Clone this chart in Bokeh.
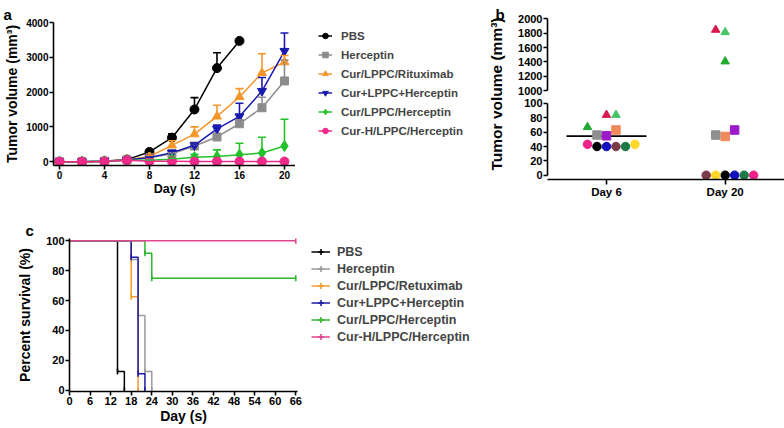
import numpy as np
from bokeh.plotting import figure
from bokeh.models import (ColumnDataSource, Whisker, TeeHead, Legend, LegendItem,
                          FixedTicker, Range1d)
from bokeh.layouts import row, column
from bokeh.embed import file_html
from bokeh.resources import INLINE

FONT = "Liberation Sans"

# ---------------- Panel a: tumour growth ----------------
days = [0, 2, 4, 6, 8, 10, 12, 14, 16, 18, 20]
names_a = ["PBS", "Herceptin", "Cur/LPPC/Rituximab", "Cur+LPPC+Herceptin",
           "Cur/LPPC/Herceptin", "Cur-H/LPPC/Herceptin"]
vol_pbs = [0, 0, 10, 60, 280, 690, 1500, 2690, 3470]
err_pbs = [0, 0, 0, 0, 20, 110, 340, 440, 0]
vol_herceptin = [0, 0, 15, 50, 110, 230, 450, 710, 1090, 1550, 2320]
err_herceptin = [0, 0, 0, 0, 10, 30, 50, 80, 110, 300, 600]
vol_rituximab = [0, 0, 15, 55, 150, 470, 790, 1300, 1860, 2550, 2860]
err_rituximab = [0, 0, 0, 0, 30, 130, 210, 320, 240, 550, 190]
vol_free_mix = [0, 0, 15, 50, 120, 260, 470, 940, 1300, 2030, 3180]
err_free_mix = [0, 0, 0, 0, 10, 40, 40, 110, 380, 390, 520]
vol_lppc_her = [0, 0, 10, 40, 40, 70, 130, 150, 200, 250, 450]
err_lppc_her = [0, 0, 0, 0, 10, 30, 80, 190, 330, 450, 770]
vol_curh = [0, 0, 5, 40, 10, 10, 5, 5, 5, 5, 5]
err_curh = [0, 0, 0, 0, 0, 0, 0, 0, 0, 0, 0]
ticks_a_x = [0, 4, 8, 12, 16, 20]
ticks_a_y = [0, 1000, 2000, 3000, 4000]

colors_a = ["#000000", "#8c8c8c", "#f5962a", "#1a1ab0", "#22c22a", "#ec2a8a"]
markers_a = ["circle", "square", "triangle", "inverted_triangle", "diamond", "circle"]
sizes_a = [9, 8, 9, 9, 11, 9]

# ---------------- Panel b: individual volumes ----------------
groups_b = ["Day 6", "Day 20"]
mouse_marker = ["triangle", "triangle", "triangle", "square", "square", "square",
                "circle", "circle", "circle", "circle", "circle", "circle"]
mouse_color = ["#d8194f", "#45c46a", "#22aa2e", "#f0895a", "#8f8f8f", "#9b19c8",
               "#ee2288", "#000000", "#1010c0", "#7a3a48", "#1b7a45", "#ffd728"]
vol_day6 = [84, 84, 67, 63, 56, 55, 43, 40, 40, 40, 40, 43]
vol_day20 = [1847, 1814, 1407, 54, 56, 63, 0, 0, 0, 0, 0, 0]
slot_day6 = [0, 1, -2, 1, -1, 0, -2, -1, 0, 1, 2, 3]
slot_day20 = [-1, 0, 0, 0, -1, 1, 3, 0, 1, -2, 2, -1]
ticks_b_low = [0, 20, 40, 60, 80, 100]
ticks_b_up = [1000, 1200, 1400, 1600, 1800, 2000]

# ---------------- Panel c: survival ----------------
names_c = ["PBS", "Herceptin", "Cur/LPPC/Retuximab", "Cur+LPPC+Herceptin",
           "Cur/LPPC/Herceptin", "Cur-H/LPPC/Herceptin"]
surv_days = [[0, 14, 16], [0, 18, 20, 22, 24], [0, 18, 20], [0, 18, 20, 22],
             [0, 22, 24, 66], [0, 66]]
surv_pct = [[100, 12.5, 0], [100, 87.5, 50, 12.5, 0], [100, 62.5, 0],
            [100, 88.9, 11.1, 0], [100, 91.7, 75, 75], [100, 100]]
colors_c = ["#000000", "#9a9a9a", "#f39c2b", "#1c1ca8", "#2cb82c", "#e0458f"]
ticks_c_x = [0, 6, 12, 18, 24, 30, 36, 42, 48, 54, 60, 66]
ticks_c_y = [0, 20, 40, 60, 80, 100]


def style(p, tick_px, label_px, label_standoff=3):
    p.outline_line_color = None
    p.xgrid.visible = False
    p.ygrid.visible = False
    for ax in p.axis:
        ax.axis_line_width = 1.6
        ax.axis_line_color = "black"
        ax.major_tick_line_width = 1.6
        ax.major_tick_line_color = "black"
        ax.major_tick_out = 4
        ax.major_tick_in = 0
        ax.minor_tick_line_color = None
        ax.major_label_text_font = FONT
        ax.major_label_text_font_style = "bold"
        ax.major_label_text_font_size = tick_px
        ax.major_label_text_color = "black"
        ax.major_label_standoff = 1
        ax.axis_label_text_font = FONT
        ax.axis_label_text_font_style = "bold"
        ax.axis_label_text_font_size = label_px
        ax.axis_label_text_color = "black"
        ax.axis_label_standoff = label_standoff


def letter(p, txt, offset):
    p.title.text = txt
    p.title.align = "left"
    p.title.offset = offset
    p.title.standoff = 0
    p.title.text_font = FONT
    p.title.text_font_style = "bold"
    p.title.text_font_size = "15px"
    p.title.text_color = "black"


def legend_fig(width, height):
    # a key-only canvas: its ranges lie far from the data, so only the legend shows
    f = figure(width=width, height=height, x_range=Range1d(-2000, -1999),
               y_range=Range1d(-90000, -89999),
               toolbar_location=None, output_backend="svg",
               min_border_left=0, min_border_right=0, min_border_top=0, min_border_bottom=0)
    f.axis.visible = False
    f.grid.visible = False
    f.outline_line_color = None
    return f


# ---- panel a figure
pa = figure(width=295, height=200, x_range=Range1d(-0.53, 20.98), y_range=Range1d(-110, 4000),
            toolbar_location=None, output_backend="svg",
            min_border_left=53, min_border_right=0, min_border_top=22, min_border_bottom=35)
style(pa, "10px", "12.5px", 0)
pa.yaxis.axis_label_text_font_size = "14px"
pa.yaxis.axis_label_standoff = 3
pa.xaxis.ticker = FixedTicker(ticks=ticks_a_x)
pa.yaxis.ticker = FixedTicker(ticks=ticks_a_y)
pa.xaxis.axis_label = "Day (s)"
pa.yaxis.axis_label = "Tumor volume (mm³)"
letter(pa, "a", -50)

pa_leg = legend_fig(175, 200)
series_vol = [vol_pbs, vol_herceptin, vol_rituximab, vol_free_mix, vol_lppc_her, vol_curh]
series_err = [err_pbs, err_herceptin, err_rituximab, err_free_mix, err_lppc_her, err_curh]
items_a = []
for name, vol, err, c, m, s in zip(names_a, series_vol, series_err, colors_a, markers_a, sizes_a):
    n = len(vol)
    x = days[:n]
    src = ColumnDataSource(dict(x=x, y=vol))
    ex = [xx for xx, e in zip(x, err) if e > 0]
    ey = [v for v, e in zip(vol, err) if e > 0]
    eu = [v + e for v, e in zip(vol, err) if e > 0]
    if ex:
        wsrc = ColumnDataSource(dict(base=ex, lower=ey, upper=eu))
        pa.add_layout(Whisker(source=wsrc, base="base", lower="lower", upper="upper",
                              line_color=c, line_width=1.6, lower_head=None,
                              upper_head=TeeHead(size=8, line_color=c, line_width=1.6),
                              level="glyph"))
    pa.line("x", "y", source=src, line_color=c, line_width=1.5)
    pa.scatter("x", "y", source=src, marker=m, size=s, fill_color=c, line_color=c)
    lr = pa_leg.line("x", "y", source=src, line_color=c, line_width=1.5)
    sr = pa_leg.scatter("x", "y", source=src, marker=m, size=s, fill_color=c, line_color=c)
    items_a.append(LegendItem(label=name, renderers=[lr, sr]))

leg_a = Legend(items=items_a, location=(23, 27), border_line_color=None,
               background_fill_alpha=0, padding=0, margin=0, spacing=4,
               glyph_width=14, glyph_height=15, label_height=15, label_standoff=9,
               label_text_font=FONT, label_text_font_style="bold",
               label_text_font_size="11.5px")
pa_leg.add_layout(leg_a)

# ---- panel b figures
xr_b = Range1d(0.503, 2.5)
slot_w = 0.08
x6 = [1 + s * slot_w for s in slot_day6]
x20 = [2 + s * slot_w for s in slot_day20]
src_b = ColumnDataSource(dict(x=x6 + x20, y=vol_day6 + vol_day20,
                              m=mouse_marker + mouse_marker, c=mouse_color + mouse_color))
mean_src = ColumnDataSource(dict(x0=[1 - 0.337, 2 - 0.337], x1=[1 + 0.337, 2 + 0.337],
                                 y=[float(np.mean(vol_day6)), float(np.mean(vol_day20))]))

pb_lab = figure(width=36, height=200, x_range=Range1d(0, 1), y_range=Range1d(0, 1),
                toolbar_location=None, output_backend="svg",
                min_border_left=34, min_border_right=0, min_border_top=0, min_border_bottom=35)
style(pb_lab, "11px", "15.5px", 0)
pb_lab.xaxis.visible = False
pb_lab.yaxis.ticker = FixedTicker(ticks=[])
pb_lab.yaxis.axis_line_color = None
pb_lab.yaxis.major_tick_line_color = None
pb_lab.yaxis.major_tick_out = 0
pb_lab.yaxis.major_label_standoff = 0
pb_lab.yaxis.axis_label = "Tumor volume (mm³)"
letter(pb_lab, "b", -9)

pb_up = figure(width=278, height=96, x_range=xr_b, y_range=Range1d(976, 2032),
               toolbar_location=None, output_backend="svg",
               min_border_left=41, min_border_right=0, min_border_top=16, min_border_bottom=4)
style(pb_up, "11px", "14px")
pb_up.xaxis.visible = False
pb_up.yaxis.ticker = FixedTicker(ticks=ticks_b_up)
pb_up.yaxis.bounds = (1000, 2000)

pb_low = figure(width=278, height=104, x_range=xr_b, y_range=Range1d(-6, 109.7),
                toolbar_location=None, output_backend="svg",
                min_border_left=41, min_border_right=0, min_border_top=0, min_border_bottom=20)
style(pb_low, "11px", "14px")
pb_low.yaxis.ticker = FixedTicker(ticks=ticks_b_low)
pb_low.yaxis.bounds = (0, 100)
pb_low.xaxis.ticker = FixedTicker(ticks=[1, 2])
pb_low.xaxis.major_label_overrides = {1: groups_b[0], 2: groups_b[1]}
pb_low.xaxis.major_label_text_font_size = "11.5px"
pb_low.xaxis.major_tick_out = 5

for p in (pb_up, pb_low):
    p.segment(x0="x0", x1="x1", y0="y", y1="y", source=mean_src, line_color="black", line_width=1.8)
    p.scatter("x", "y", source=src_b, marker="m", size=8.5, fill_color="c", line_color="c")

# ---- panel c figure
pc = figure(width=305, height=228, x_range=Range1d(0, 66.5), y_range=Range1d(-0.8, 101.5),
            toolbar_location=None, output_backend="svg",
            min_border_left=69, min_border_right=8, min_border_top=38, min_border_bottom=37)
style(pc, "11px", "14px", 10)
pc.xaxis.ticker = FixedTicker(ticks=ticks_c_x)
pc.yaxis.ticker = FixedTicker(ticks=ticks_c_y)
pc.xaxis.axis_label = "Day (s)"
pc.yaxis.axis_label = "Percent survival (%)"
pc.xaxis.axis_label_standoff = 0
letter(pc, "c", -44)

pc_leg = legend_fig(175, 228)
items_c = []
for name, dx, sy, c in zip(names_c, surv_days, surv_pct, colors_c):
    ssrc = ColumnDataSource(dict(x=dx, y=sy))
    tsrc = ColumnDataSource(dict(x=dx[1:], y=sy[1:]))
    pc.step("x", "y", source=ssrc, mode="after", line_color=c, line_width=1.5)
    pc.scatter("x", "y", source=tsrc, marker="dash", angle=np.pi / 2, size=6,
               line_color=c, line_width=1.6)
    lr = pc_leg.line("x", "y", source=ssrc, line_color=c, line_width=1.5)
    tr = pc_leg.scatter("x", "y", source=tsrc, marker="cross", size=7,
                        line_color=c, line_width=1.6)
    items_c.append(LegendItem(label=name, renderers=[lr, tr]))

leg_c = Legend(items=items_c, location=(6, 47), border_line_color=None,
               background_fill_alpha=0, padding=0, margin=0, spacing=2,
               glyph_width=19, glyph_height=15, label_height=15, label_standoff=7,
               label_text_font=FONT, label_text_font_style="bold",
               label_text_font_size="12.5px")
pc_leg.add_layout(leg_c)

layout = column(row(pa, pa_leg, pb_lab, column(pb_up, pb_low)), row(pc, pc_leg))
open("out.html", "w").write(file_html(layout, INLINE))
